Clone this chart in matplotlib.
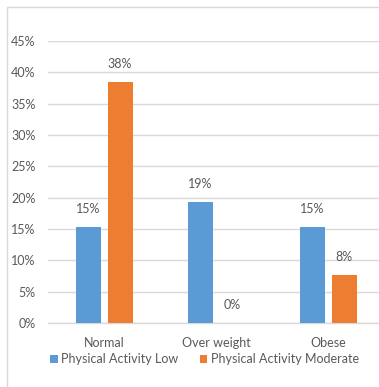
import matplotlib
matplotlib.use("Agg")
import matplotlib.pyplot as plt
from matplotlib.patches import Rectangle, Patch
import numpy as np

categories = ["Normal", "Over weight", "Obese"]
series_names = ["Physical Activity Low", "Physical Activity Moderate"]
low = [15.38, 19.23, 15.38]
moderate = [38.46, 0.0, 7.69]
yticks = [0, 5, 10, 15, 20, 25, 30, 35, 40, 45]

blue = "#5b9bd5"
orange = "#ed7d31"
text_col = "#595959"
grid_col = "#d9d9d9"

plt.rcParams["font.family"] = ["Lato", "DejaVu Sans"]

W, H = 379, 387
fig = plt.figure(figsize=(W / 100, H / 100), dpi=100)

# chart area border
fig.patches.append(Rectangle((7 / W, -0.1), 1.2, 1 - 7 / H + 0.1,
                             transform=fig.transFigure, fill=False,
                             edgecolor="#d9d9d9", linewidth=1.0))

left_px, right_px, top_px, bot_px = 48, 384, 41, 323
ax = fig.add_axes([left_px / W, 1 - bot_px / H,
                   (right_px - left_px) / W, (bot_px - top_px) / H])

x = np.arange(len(categories))
bw = 25 / 112
gap = 7 / 112
b1 = ax.bar(x - (bw + gap) / 2, low, bw, color=blue, zorder=3)
b2 = ax.bar(x + (bw + gap) / 2, moderate, bw, color=orange, zorder=3)

for bars, vals in ((b1, low), (b2, moderate)):
    for rect, v in zip(bars, vals):
        ax.annotate(f"{v:.0f}%", (rect.get_x() + rect.get_width() / 2, v),
                    xytext=(0, 13), textcoords="offset points",
                    ha="center", va="center", fontsize=9, color=text_col)

ax.set_xlim(-0.5, 2.5)
ax.set_ylim(0, 45)
ax.set_yticks(yticks)
ax.set_yticklabels([f"{t}%" for t in yticks])
ax.set_xticks(x)
ax.set_xticklabels(categories)
ax.tick_params(axis="both", length=0, labelsize=9, labelcolor=text_col)
ax.tick_params(axis="y", pad=9)
ax.tick_params(axis="x", pad=10)
ax.yaxis.grid(True, color=grid_col, linewidth=1.0, zorder=0)
for s in ("top", "right", "left"):
    ax.spines[s].set_visible(False)
ax.spines["bottom"].set_color(grid_col)
ax.spines["bottom"].set_linewidth(1.0)

handles = [Patch(facecolor=blue), Patch(facecolor=orange)]
fig.legend(handles, series_names, loc="center left",
           bbox_to_anchor=(50 / W, 1 - 359 / H), ncol=2, frameon=False,
           fontsize=9, labelcolor=text_col, handlelength=0.6, handleheight=0.6,
           handletextpad=0.3, columnspacing=1.7, borderaxespad=0, borderpad=0)

fig.savefig("out.png", dpi=100)
